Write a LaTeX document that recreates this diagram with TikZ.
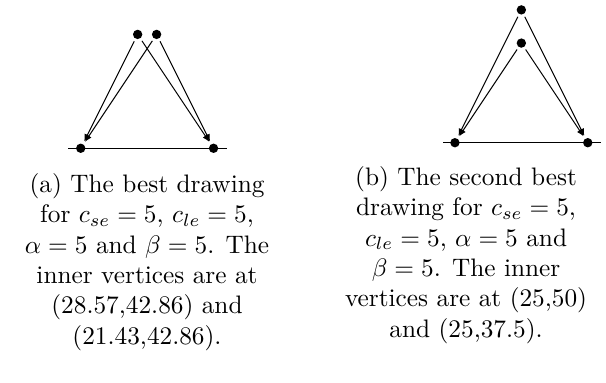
\documentclass[tikz,border=0pt]{standalone}
\usetikzlibrary{arrows.meta}
\tikzset{
  vtx/.style={circle,fill=black,inner sep=0pt,minimum size=3.7pt,outer sep=1.2pt},
  edgearr/.style={-{Latex[length=2.8pt,width=2.4pt]},line width=0.4pt},
  capt/.style={align=center,anchor=north,inner sep=0pt}
}
\begin{document}
\begin{tikzpicture}
  \useasboundingbox (0,0) rectangle (239.5pt,151pt);
  % drawing (a)
  \begin{scope}[shift={(31.9pt,92.4pt)},x=1.05pt,y=1.05pt]
    \node[vtx] (la) at (0,0) {};
    \node[vtx] (ra) at (50,0) {};
    \node[vtx] (pa) at (21.43,42.86) {};
    \node[vtx] (qa) at (28.57,42.86) {};
    \coordinate (wa) at (-4.7,0);
    \coordinate (ea) at (55,0);
  \end{scope}
  \draw[line width=0.4pt] (wa) -- (ea);
  \foreach \s in {pa,qa}
    \foreach \t in {la,ra}
      \draw[edgearr] (\s) -- (\t);
  % drawing (b)
  \begin{scope}[shift={(179.8pt,94.6pt)},x=1.05pt,y=1.05pt]
    \node[vtx] (lb) at (0,0) {};
    \node[vtx] (rb) at (50,0) {};
    \node[vtx] (pb) at (25,50) {};
    \node[vtx] (qb) at (25,37.5) {};
    \coordinate (wb) at (-4.4,0);
    \coordinate (eb) at (55,0);
  \end{scope}
  \draw[line width=0.4pt] (wb) -- (eb);
  \foreach \s in {pb,qb}
    \foreach \t in {lb,rb}
      \draw[edgearr] (\s) -- (\t);
  % captions
  \node[capt] (capa) at (58.1pt,82.7pt) {(a) The best drawing\\
    for $c_{se}=5$, $c_{le}=5$,\\
    $\alpha=5$ and $\beta=5$. The\\
    inner vertices are at\\
    (28.57,42.86) and\\
    (21.43,42.86).};
  \node[capt] (capb) at (184.2pt,85.4pt) {(b) The second best\\
    drawing for $c_{se}=5$,\\
    $c_{le}=5$, $\alpha=5$ and\\
    $\beta=5$. The inner\\
    vertices are at (25,50)\\
    and (25,37.5).};
\end{tikzpicture}
\end{document}
